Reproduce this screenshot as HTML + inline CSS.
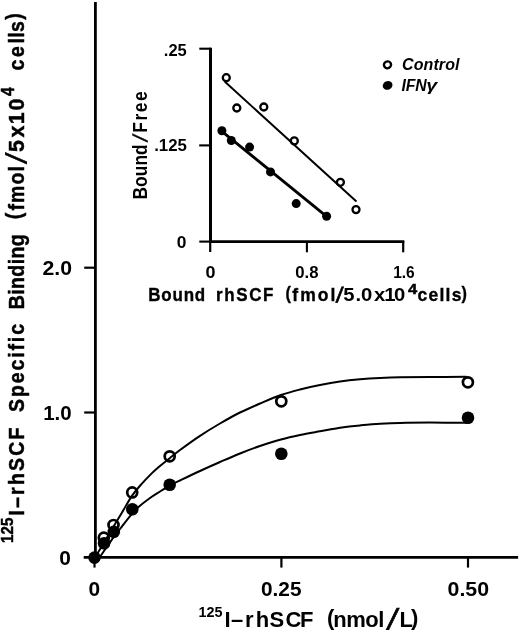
<!DOCTYPE html>
<html><head><meta charset="utf-8"><title>Figure</title>
<style>
html,body{margin:0;padding:0;background:#fff;}
svg{display:block;font-family:"Liberation Sans", sans-serif;fill:#000;filter:blur(0.3px);}
</style></head><body>
<svg width="520" height="632" viewBox="0 0 520 632">
<rect width="520" height="632" fill="#fff"/>
<line x1="95.4" y1="2" x2="95.4" y2="558.8" stroke="#000" stroke-width="2.8" stroke-linecap="butt"/>
<line x1="83.7" y1="557.4" x2="518.1" y2="557.4" stroke="#000" stroke-width="2.7" stroke-linecap="butt"/>
<line x1="84.2" y1="267.7" x2="95" y2="267.7" stroke="#000" stroke-width="2.2" stroke-linecap="butt"/>
<line x1="84.2" y1="412.5" x2="95" y2="412.5" stroke="#000" stroke-width="2.2" stroke-linecap="butt"/>
<line x1="94.5" y1="557" x2="94.5" y2="567.6" stroke="#000" stroke-width="2.2" stroke-linecap="butt"/>
<line x1="281.4" y1="557" x2="281.4" y2="567.6" stroke="#000" stroke-width="2.2" stroke-linecap="butt"/>
<line x1="468" y1="557" x2="468" y2="567.6" stroke="#000" stroke-width="2.2" stroke-linecap="butt"/>
<text x="42.5" y="274.6" font-size="19.3" font-weight="bold" font-style="normal" text-anchor="start" textLength="29.5" lengthAdjust="spacingAndGlyphs">2.0</text>
<text x="43.2" y="419.6" font-size="19.3" font-weight="bold" font-style="normal" text-anchor="start" textLength="28.5" lengthAdjust="spacingAndGlyphs">1.0</text>
<text x="59.2" y="564.7" font-size="19.3" font-weight="bold" font-style="normal" text-anchor="start" textLength="11.6" lengthAdjust="spacingAndGlyphs">0</text>
<text x="88.6" y="596.4" font-size="19.3" font-weight="bold" font-style="normal" text-anchor="start" textLength="11.6" lengthAdjust="spacingAndGlyphs">0</text>
<text x="261" y="596.3" font-size="19.3" font-weight="bold" font-style="normal" text-anchor="start" textLength="40.5" lengthAdjust="spacingAndGlyphs">0.25</text>
<text x="447.6" y="596.3" font-size="19.3" font-weight="bold" font-style="normal" text-anchor="start" textLength="41.5" lengthAdjust="spacingAndGlyphs">0.50</text>
<circle cx="103.8" cy="537.7" r="5.0" fill="#fff" stroke="#000" stroke-width="2.7"/>
<circle cx="113.5" cy="525" r="5.0" fill="#fff" stroke="#000" stroke-width="2.7"/>
<circle cx="132.2" cy="492.4" r="5.0" fill="#fff" stroke="#000" stroke-width="2.7"/>
<circle cx="169.7" cy="456.3" r="5.0" fill="#fff" stroke="#000" stroke-width="2.7"/>
<circle cx="281.3" cy="401.3" r="5.0" fill="#fff" stroke="#000" stroke-width="2.7"/>
<circle cx="467.9" cy="382.3" r="5.0" fill="#fff" stroke="#000" stroke-width="2.7"/>
<path d="M95.0,557.5 C96.5,555.0 100.9,547.7 104.0,542.5 C107.1,537.3 110.7,531.3 113.7,526.3 C116.7,521.3 118.9,517.6 122.0,512.5 C125.1,507.4 128.9,500.2 132.1,495.6 C135.3,491.0 137.8,488.2 141.0,484.6 C144.2,481.0 148.1,477.0 151.2,473.9 C154.4,470.8 156.9,468.7 160.0,466.0 C163.1,463.3 166.7,460.6 170.0,457.9 C173.3,455.2 175.0,453.7 180.0,450.0 C185.0,446.3 193.3,440.2 200.0,435.8 C206.7,431.4 213.3,427.4 220.0,423.5 C226.7,419.6 233.3,415.8 240.0,412.5 C246.7,409.2 253.2,406.4 260.0,403.5 C266.8,400.6 274.3,397.3 281.0,395.0 C287.7,392.7 293.5,391.2 300.0,389.5 C306.5,387.8 313.3,386.3 320.0,385.0 C326.7,383.7 333.3,382.5 340.0,381.5 C346.7,380.5 353.3,379.8 360.0,379.2 C366.7,378.6 373.3,378.2 380.0,377.9 C386.7,377.6 391.7,377.4 400.0,377.3 C408.3,377.2 419.0,377.1 430.0,377.0 C441.0,376.9 460.0,376.8 466.0,376.7" fill="none" stroke="#000" stroke-width="2.0" stroke-linecap="round"/>
<path d="M98.5,559.0 C99.2,558.0 100.5,556.1 102.6,553.0 C104.7,549.9 108.2,544.8 111.2,540.6 C114.2,536.4 117.6,532.2 120.8,528.0 C124.0,523.8 127.5,519.1 130.5,515.6 C133.4,512.1 135.2,509.9 138.5,507.0 C141.8,504.1 146.4,500.6 150.0,498.0 C153.6,495.4 156.7,493.6 160.0,491.5 C163.3,489.4 166.7,487.3 170.0,485.5 C173.3,483.7 175.0,482.9 180.0,480.5 C185.0,478.1 193.3,474.1 200.0,471.0 C206.7,467.9 213.3,464.9 220.0,462.0 C226.7,459.1 233.3,456.2 240.0,453.5 C246.7,450.8 253.2,448.3 260.0,446.0 C266.8,443.7 274.3,441.3 281.0,439.5 C287.7,437.7 293.5,436.4 300.0,435.0 C306.5,433.6 313.3,432.5 320.0,431.3 C326.7,430.1 333.3,428.7 340.0,427.7 C346.7,426.7 353.3,426.0 360.0,425.4 C366.7,424.8 373.3,424.2 380.0,423.8 C386.7,423.4 391.7,423.1 400.0,422.9 C408.3,422.7 418.8,422.6 430.0,422.6 C441.2,422.6 460.8,422.8 467.0,422.8" fill="none" stroke="#000" stroke-width="2.0" stroke-linecap="round"/>
<circle cx="94.5" cy="557.6" r="6.3" fill="#000"/>
<circle cx="104.1" cy="543.2" r="6.3" fill="#000"/>
<circle cx="113.8" cy="531.9" r="6.3" fill="#000"/>
<circle cx="132.3" cy="509.2" r="6.3" fill="#000"/>
<circle cx="169.7" cy="484.7" r="6.3" fill="#000"/>
<circle cx="281.3" cy="453.8" r="6.3" fill="#000"/>
<circle cx="468" cy="417.8" r="6.3" fill="#000"/>
<line x1="210.5" y1="47.7" x2="210.5" y2="242" stroke="#000" stroke-width="3" stroke-linecap="butt"/>
<line x1="210.2" y1="241" x2="210.2" y2="252" stroke="#000" stroke-width="2.2" stroke-linecap="butt"/>
<line x1="199.3" y1="241.6" x2="210" y2="241.6" stroke="#000" stroke-width="2.1" stroke-linecap="butt"/>
<line x1="209" y1="241.6" x2="404.3" y2="241.6" stroke="#000" stroke-width="2.7" stroke-linecap="butt"/>
<line x1="199.3" y1="48.7" x2="210.5" y2="48.7" stroke="#000" stroke-width="2.1" stroke-linecap="butt"/>
<line x1="199.2" y1="145.4" x2="210.5" y2="145.4" stroke="#000" stroke-width="2.1" stroke-linecap="butt"/>
<line x1="306.9" y1="241" x2="306.9" y2="252.3" stroke="#000" stroke-width="2.1" stroke-linecap="butt"/>
<line x1="403.2" y1="241" x2="403.2" y2="252.3" stroke="#000" stroke-width="2.2" stroke-linecap="butt"/>
<text x="163.8" y="55.6" font-size="15.6" font-weight="bold" font-style="normal" text-anchor="start" textLength="23" lengthAdjust="spacingAndGlyphs">.25</text>
<text x="154.2" y="151.2" font-size="15.6" font-weight="bold" font-style="normal" text-anchor="start" textLength="32.8" lengthAdjust="spacingAndGlyphs">.125</text>
<text x="176.7" y="247.6" font-size="15.6" font-weight="bold" font-style="normal" text-anchor="start" textLength="9.7" lengthAdjust="spacingAndGlyphs">0</text>
<text x="205.4" y="277.9" font-size="15.6" font-weight="bold" font-style="normal" text-anchor="start" textLength="10" lengthAdjust="spacingAndGlyphs">0</text>
<text x="295.3" y="278.1" font-size="15.6" font-weight="bold" font-style="normal" text-anchor="start" textLength="23.3" lengthAdjust="spacingAndGlyphs">0.8</text>
<text x="393.2" y="278.1" font-size="15.6" font-weight="bold" font-style="normal" text-anchor="start" textLength="21.5" lengthAdjust="spacingAndGlyphs">1.6</text>
<circle cx="226.3" cy="77.7" r="3.5" fill="#fff" stroke="#000" stroke-width="2.3"/>
<circle cx="236.8" cy="108" r="3.5" fill="#fff" stroke="#000" stroke-width="2.3"/>
<circle cx="263.8" cy="107" r="3.5" fill="#fff" stroke="#000" stroke-width="2.3"/>
<circle cx="294.3" cy="140.9" r="3.5" fill="#fff" stroke="#000" stroke-width="2.3"/>
<circle cx="340.4" cy="182.3" r="3.5" fill="#fff" stroke="#000" stroke-width="2.3"/>
<circle cx="356" cy="209.6" r="3.5" fill="#fff" stroke="#000" stroke-width="2.3"/>
<line x1="225.2" y1="82.1" x2="355.9" y2="200.9" stroke="#000" stroke-width="2.0" stroke-linecap="round"/>
<line x1="221.9" y1="131.3" x2="326.5" y2="216.3" stroke="#000" stroke-width="2.8" stroke-linecap="round"/>
<circle cx="221.9" cy="130.7" r="4.5" fill="#000"/>
<circle cx="231.3" cy="140.5" r="4.5" fill="#000"/>
<circle cx="249.6" cy="147.1" r="4.5" fill="#000"/>
<circle cx="270.5" cy="171.9" r="4.5" fill="#000"/>
<circle cx="296.2" cy="203.6" r="4.5" fill="#000"/>
<circle cx="326.6" cy="216.2" r="4.5" fill="#000"/>
<text transform="translate(148.2,301.3) scale(0.97,1.06)" font-size="17.5" font-weight="bold" font-style="normal" stroke="#000" stroke-width="0.35" textLength="58.76" lengthAdjust="spacing">Bound</text>
<text transform="translate(216.0,301.3) scale(0.97,1.06)" font-size="17.5" font-weight="bold" font-style="normal" stroke="#000" stroke-width="0.35" textLength="59.18" lengthAdjust="spacing">rhSCF</text>
<text transform="translate(285.4,299.0) scale(0.93,1.06)" font-size="17.5" font-weight="bold" font-style="normal" stroke="#000" stroke-width="0.35" textLength="6.45" lengthAdjust="spacing">(</text>
<text transform="translate(292.3,301.3) scale(1.0,1.06)" font-size="17.5" font-weight="bold" font-style="normal" stroke="#000" stroke-width="0.35" textLength="43.00" lengthAdjust="spacing">fmol</text>
<text transform="translate(335.4,302.0) skewX(-13) scale(1,1.2)" font-size="17.5" font-weight="bold" stroke="#000" stroke-width="0.6">/</text>
<text transform="translate(343.3,301.3) scale(1.16,1.06)" font-size="17.5" font-weight="bold" x="0.00 10.52 15.26 26.38 35.34 43.71">5.0x10</text>
<text x="407.9" y="294.0" font-size="15" font-weight="bold" font-style="normal" text-anchor="start" textLength="9.2" lengthAdjust="spacingAndGlyphs" stroke="#000" stroke-width="0.5">4</text>
<text transform="translate(417.6,301.3) scale(1.0,1.06)" font-size="17.5" font-weight="bold" font-style="normal" stroke="#000" stroke-width="0.35" textLength="43.80" lengthAdjust="spacing">cells</text>
<text transform="translate(461.4,299.3) scale(0.93,1.06)" font-size="17.5" font-weight="bold" font-style="normal" stroke="#000" stroke-width="0.35" textLength="6.45" lengthAdjust="spacing">)</text>
<text transform="translate(147.0,199.6) rotate(-90) scale(1,1.15)" font-size="17.3" font-weight="bold" textLength="55.3" lengthAdjust="spacing">Bound</text>
<text transform="translate(147.3,142.3) rotate(-90) skewX(-18) scale(1,1.35)" font-size="14.7" font-weight="bold" stroke="#000" stroke-width="0.5">/</text>
<text transform="translate(147.0,132.7) rotate(-90) scale(1,1.15)" font-size="17.3" font-weight="bold" textLength="41.2" lengthAdjust="spacing">Free</text>
<ellipse cx="387.5" cy="64.8" rx="3.6" ry="3.4" fill="#fff" stroke="#000" stroke-width="2.4" transform="rotate(-25 387.5 64.8) "/>
<ellipse cx="387.6" cy="85.4" rx="5.0" ry="4.3" fill="#000" transform="rotate(-25 387.6 85.4)"/>
<text x="402.0" y="70.3" font-size="16" font-weight="bold" font-style="italic" text-anchor="start" textLength="57.5" lengthAdjust="spacing">Control</text>
<text x="401.6" y="91.0" font-size="15.8" font-weight="bold" font-style="italic" text-anchor="start" textLength="25" lengthAdjust="spacing">IFN</text>
<text x="426.3" y="91.0" font-size="17" font-weight="bold" font-style="italic" text-anchor="start" textLength="11" lengthAdjust="spacingAndGlyphs">&#947;</text>
<text x="198.6" y="617.4" font-size="15.3" font-weight="bold" font-style="normal" text-anchor="start" textLength="24" lengthAdjust="spacingAndGlyphs">125</text>
<text transform="translate(224.4,627) scale(1.0,1.0)" font-size="22" font-weight="bold" x="0.00 6.70 20.50 31.40 45.20 61.10 75.70">I&#8211;rhSCF</text>
<text transform="translate(327.0,624.6) scale(1.0,1.0)" font-size="22" font-weight="bold" font-style="normal" textLength="7.30" lengthAdjust="spacing">(</text>
<text transform="translate(333.2,627) scale(1.0,1.0)" font-size="22" font-weight="bold" font-style="normal" textLength="51.20" lengthAdjust="spacing">nmol</text>
<text transform="translate(386.2,629) skewX(-19) scale(1,1.3)" font-size="22" font-weight="bold" stroke="#000" stroke-width="0.8">/</text>
<text transform="translate(399.6,627) scale(1.0,1.0)" font-size="22" font-weight="bold" font-style="normal" textLength="13.40" lengthAdjust="spacing">L</text>
<text transform="translate(411.0,624.6) scale(1.0,1.0)" font-size="22" font-weight="bold" font-style="normal" textLength="7.30" lengthAdjust="spacing">)</text>
<text transform="translate(13.3,542.9) rotate(-90) scale(1,1.15)" font-size="14.8" font-weight="bold" stroke="#000" stroke-width="0.4" textLength="25.2" lengthAdjust="spacingAndGlyphs">125</text>
<text transform="translate(23.9,515.6) rotate(-90) scale(1,1.15)" font-size="19.5" font-weight="bold" stroke="#000" stroke-width="0.4" textLength="88" lengthAdjust="spacing">I&#8211;rhSCF</text>
<text transform="translate(23.9,412.0) rotate(-90) scale(1,1.15)" font-size="19.5" font-weight="bold" stroke="#000" stroke-width="0.4" textLength="88" lengthAdjust="spacing">Specific</text>
<text transform="translate(23.9,309.3) rotate(-90) scale(1,1.15)" font-size="19.5" font-weight="bold" stroke="#000" stroke-width="0.4" textLength="75" lengthAdjust="spacing">Binding</text>
<text transform="translate(21.2,219.3) rotate(-90) scale(1,1.15)" font-size="19.5" font-weight="bold" stroke="#000" stroke-width="0.4" textLength="7" lengthAdjust="spacing">(</text>
<text transform="translate(23.9,210.6) rotate(-90) scale(1,1.15)" font-size="19.5" font-weight="bold" stroke="#000" stroke-width="0.4" textLength="44.5" lengthAdjust="spacing">fmol</text>
<text transform="translate(25.6,164.0) rotate(-90) skewX(-17) scale(1,1.45)" font-size="19.5" font-weight="bold" stroke="#000" stroke-width="0.6">/</text>
<text transform="translate(23.9,151.9) rotate(-90) scale(1.1,1.15)" font-size="19.5" font-weight="bold" stroke="#000" stroke-width="0.4" x="0.00 13.00 25.09 37.64">5x10</text>
<text transform="translate(14.4,96) rotate(-90) scale(1,1.22)" font-size="15" font-weight="bold" stroke="#000" stroke-width="0.4" textLength="8.7" lengthAdjust="spacingAndGlyphs">4</text>
<text transform="translate(23.9,70.5) rotate(-90) scale(1.0,1.15)" font-size="19.5" font-weight="bold" stroke="#000" stroke-width="0.4" x="0.00 13.60 27.00 32.80 38.50">cells</text>
<text transform="translate(21.2,19.8) rotate(-90) scale(1,1.15)" font-size="19.5" font-weight="bold" stroke="#000" stroke-width="0.4" textLength="7" lengthAdjust="spacing">)</text>
</svg>
</body></html>
